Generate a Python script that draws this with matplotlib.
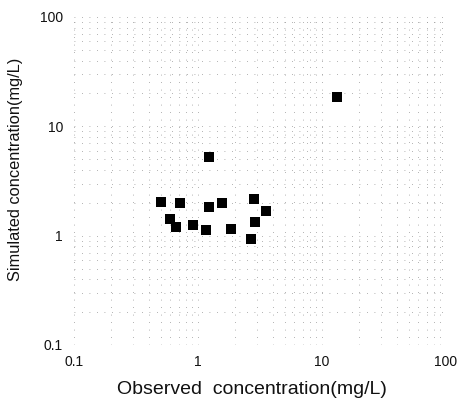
import matplotlib
matplotlib.use("Agg")
import matplotlib.pyplot as plt
from matplotlib.ticker import LogLocator, FixedLocator, NullFormatter

plt.rcParams['font.family'] = ['Liberation Sans', 'DejaVu Sans']

observed = [1.23, 0.50, 0.72, 1.23, 1.57, 2.83, 3.55, 0.60, 0.67, 0.91, 1.17, 1.85, 2.90, 2.66, 13.3]
simulated = [5.27, 2.02, 2.00, 1.83, 2.00, 2.17, 1.67, 1.42, 1.19, 1.25, 1.13, 1.16, 1.32, 0.93, 18.7]
tick_values = [0.1, 1, 10, 100]
tick_labels = ["0.1", "1", "10", "100"]

fig = plt.figure(figsize=(4.6, 4.03), dpi=100)
ax = fig.add_axes([74/460, 1-345/403, (446-74)/460, (345-17)/403])
ax.set_xscale('log')
ax.set_yscale('log')
ax.set_xlim(0.1, 100)
ax.set_ylim(0.1, 100)

ax.scatter(observed, simulated, marker='s', s=60, color='black', zorder=3, linewidths=0)

ax.xaxis.set_major_locator(FixedLocator(tick_values))
ax.yaxis.set_major_locator(FixedLocator(tick_values))
ax.set_xticklabels(tick_labels)
ax.set_yticklabels(tick_labels)
ax.xaxis.set_minor_locator(LogLocator(base=10, subs=range(2, 10)))
ax.yaxis.set_minor_locator(LogLocator(base=10, subs=range(2, 10)))
ax.xaxis.set_minor_formatter(NullFormatter())
ax.yaxis.set_minor_formatter(NullFormatter())

ax.grid(True, which='both', linestyle=(0, (1, 8)), color='#999999', linewidth=0.6)
ax.set_axisbelow(True)
for s in ax.spines.values():
    s.set_visible(False)
ax.tick_params(which='both', length=0, labelsize=10, colors='#111111')
ax.tick_params(axis='x', pad=7)
ax.tick_params(axis='y', pad=8)

fig.text(251.5/460, 1-390/403, "Observed  concentration(mg/L)", fontsize=14,
         ha='center', va='center', color='#111111')
fig.text(16/460, 1-169/403, "Simulated concentration(mg/L)", fontsize=11.8,
         ha='center', va='center', rotation=90, color='#111111')

fig.savefig("out.png", dpi=100)
